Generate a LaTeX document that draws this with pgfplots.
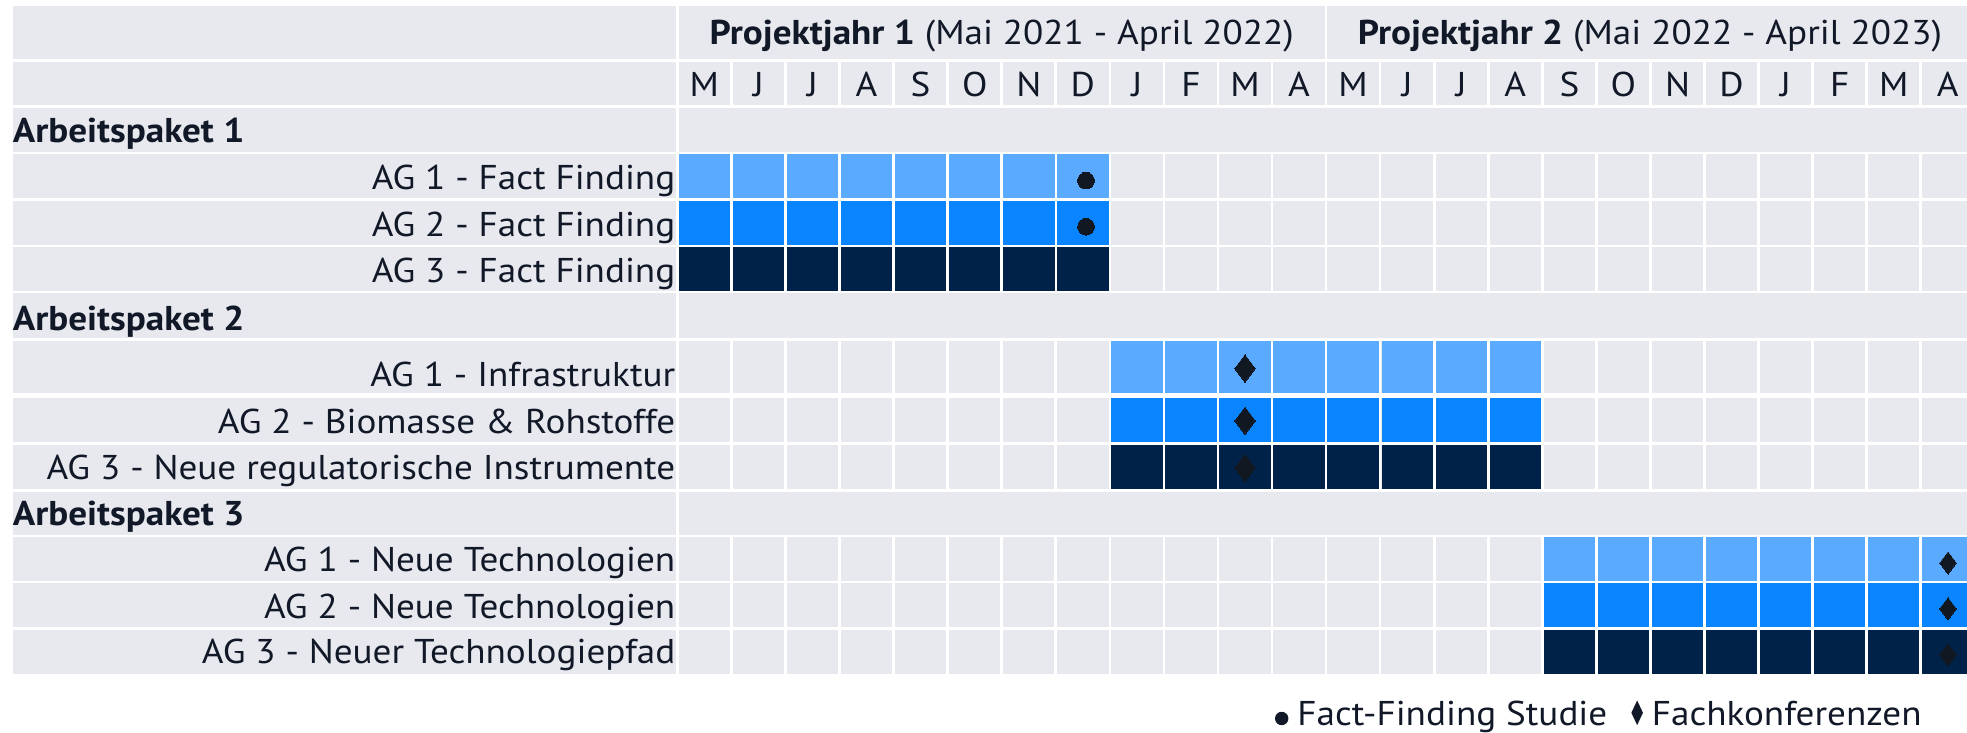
\documentclass[border=0pt]{standalone}
\usepackage{pgfplots}
\pgfplotsset{compat=1.18}
\usepackage{pgfplotstable}
\usepackage{fontspec}
\setmainfont{PT Sans}[FakeStretch=1.08]
\definecolor{bg}{RGB}{232,233,238}
\definecolor{lb}{RGB}{90,171,255}
\definecolor{mb}{RGB}{10,132,255}
\definecolor{nv}{RGB}{0,34,72}
\definecolor{mk}{RGB}{17,24,34}
\definecolor{tx}{RGB}{17,24,39}

% one grid cell: 51.4 x 43.8 px (1 px = 0.5pt)
\pgfdeclareplotmark{cell}{\pgfpathrectangle{\pgfqpoint{-12.85pt}{-10.95pt}}{\pgfqpoint{25.7pt}{21.9pt}}\pgfusepathqfill}
\pgfdeclareplotmark{celltall}{\pgfpathrectangle{\pgfqpoint{-12.85pt}{-13.075pt}}{\pgfqpoint{25.7pt}{26.15pt}}\pgfusepathqfill}

% light blue cells (AG 1)
\pgfplotstableread{
x y
704.4 176
758.5 176
812.5 176
866.6 176
920.6 176
974.7 176
1028.8 176
1082.8 176
1569.4 559
1623.4 559
1677.5 559
1731.5 559
1785.6 559
1839.7 559
1893.7 559
1947.8 559
}\lightcells
\pgfplotstableread{
x y
1136.9 367.15
1190.9 367.15
1245.0 367.15
1299.1 367.15
1353.1 367.15
1407.2 367.15
1461.2 367.15
1515.3 367.15
}\lighttall
% mid blue cells (AG 2)
\pgfplotstableread{
x y
704.4 222.85
758.5 222.85
812.5 222.85
866.6 222.85
920.6 222.85
974.7 222.85
1028.8 222.85
1082.8 222.85
1136.9 419.8
1190.9 419.8
1245.0 419.8
1299.1 419.8
1353.1 419.8
1407.2 419.8
1461.2 419.8
1515.3 419.8
1569.4 605.3
1623.4 605.3
1677.5 605.3
1731.5 605.3
1785.6 605.3
1839.7 605.3
1893.7 605.3
1947.8 605.3
}\midcells
% navy cells (AG 3)
\pgfplotstableread{
x y
704.4 269
758.5 269
812.5 269
866.6 269
920.6 269
974.7 269
1028.8 269
1082.8 269
1136.9 467
1190.9 467
1245.0 467
1299.1 467
1353.1 467
1407.2 467
1461.2 467
1515.3 467
1569.4 651.65
1623.4 651.65
1677.5 651.65
1731.5 651.65
1785.6 651.65
1839.7 651.65
1893.7 651.65
1947.8 651.65
}\navycells
% milestones
\pgfplotstableread{
x y
1086 180.6
1086 226.7
}\studies
\pgfplotstableread{
x y
1245 368.5
1245 420.8
1245 468
}\konfA
\pgfplotstableread{
x y
1948 563
1948 608.8
1948 654.7
}\konfB

\begin{document}
\begin{tikzpicture}[font=\fontsize{17.2pt}{19pt}\selectfont, text=tx]
\begin{axis}[
  scale only axis, width=983.5pt, height=366.5pt,
  xmin=0, xmax=1967, ymin=0, ymax=733, y dir=reverse,
  hide axis, clip=true,
]
% ---- label column cells
\fill[bg] (axis cs:12.5,6) rectangle (axis cs:675.7,59.3);
\fill[bg] (axis cs:12.5,62) rectangle (axis cs:675.7,105.3);
\fill[bg] (axis cs:12.5,108) rectangle (axis cs:675.7,151.7);
\fill[bg] (axis cs:12.5,154.1) rectangle (axis cs:675.7,197.9);
\fill[bg] (axis cs:12.5,200.95) rectangle (axis cs:675.7,244.75);
\fill[bg] (axis cs:12.5,247.1) rectangle (axis cs:675.7,290.9);
\fill[bg] (axis cs:12.5,293.3) rectangle (axis cs:675.7,338.3);
\fill[bg] (axis cs:12.5,341) rectangle (axis cs:675.7,393.3);
\fill[bg] (axis cs:12.5,397.9) rectangle (axis cs:675.7,441.7);
\fill[bg] (axis cs:12.5,445.1) rectangle (axis cs:675.7,488.9);
\fill[bg] (axis cs:12.5,491.7) rectangle (axis cs:675.7,535);
\fill[bg] (axis cs:12.5,537.1) rectangle (axis cs:675.7,580.9);
\fill[bg] (axis cs:12.5,583.4) rectangle (axis cs:675.7,627.2);
\fill[bg] (axis cs:12.5,629.75) rectangle (axis cs:675.7,673.55);
% ---- header cells
\fill[bg] (axis cs:678.7,6) rectangle (axis cs:1324.7,59.3);
\fill[bg] (axis cs:1327.4,6) rectangle (axis cs:1975,59.3);
% ---- Arbeitspaket rows (merged)
\fill[bg] (axis cs:678.7,108) rectangle (axis cs:1975,151.7);
\fill[bg] (axis cs:678.7,293.3) rectangle (axis cs:1975,338.3);
\fill[bg] (axis cs:678.7,491.7) rectangle (axis cs:1975,535);
% ---- month grid cells
\pgfplotsinvokeforeach{0,...,23}{
  \fill[bg] (axis cs:{678.7+#1*54.06},62) rectangle (axis cs:{730.1+#1*54.06},105.3);
  \fill[bg] (axis cs:{678.7+#1*54.06},154.1) rectangle (axis cs:{730.1+#1*54.06},197.9);
  \fill[bg] (axis cs:{678.7+#1*54.06},200.95) rectangle (axis cs:{730.1+#1*54.06},244.75);
  \fill[bg] (axis cs:{678.7+#1*54.06},247.1) rectangle (axis cs:{730.1+#1*54.06},290.9);
  \fill[bg] (axis cs:{678.7+#1*54.06},341) rectangle (axis cs:{730.1+#1*54.06},393.3);
  \fill[bg] (axis cs:{678.7+#1*54.06},397.9) rectangle (axis cs:{730.1+#1*54.06},441.7);
  \fill[bg] (axis cs:{678.7+#1*54.06},445.1) rectangle (axis cs:{730.1+#1*54.06},488.9);
  \fill[bg] (axis cs:{678.7+#1*54.06},537.1) rectangle (axis cs:{730.1+#1*54.06},580.9);
  \fill[bg] (axis cs:{678.7+#1*54.06},583.4) rectangle (axis cs:{730.1+#1*54.06},627.2);
  \fill[bg] (axis cs:{678.7+#1*54.06},629.75) rectangle (axis cs:{730.1+#1*54.06},673.55);
}
% ---- coloured cells
\addplot[only marks, mark=cell, color=lb] table {\lightcells};
\addplot[only marks, mark=celltall, color=lb] table {\lighttall};
\addplot[only marks, mark=cell, color=mb] table {\midcells};
\addplot[only marks, mark=cell, color=nv] table {\navycells};
% ---- milestones
\addplot[only marks, mark=*, mark size=4.17pt, color=mk, mark options={line width=0pt}] table {\studies};
\addplot[only marks, mark=diamond*, mark size=6.8pt, color=mk, mark options={line width=0pt}] table {\konfA};
\addplot[only marks, mark=diamond*, mark size=5.5pt, color=mk, mark options={line width=0pt}] table {\konfB};
% ---- header texts
\node[anchor=base, inner sep=0pt] at (axis cs:1001.7,45) {\textbf{Projektjahr 1} (Mai 2021 - April 2022)};
\node[anchor=base, inner sep=0pt] at (axis cs:1650,45) {\textbf{Projektjahr 2} (Mai 2022 - April 2023)};
% ---- months
\node[anchor=base, inner sep=0pt] at (axis cs:704.4,96.7) {M};
\node[anchor=base, inner sep=0pt] at (axis cs:758.5,96.7) {J};
\node[anchor=base, inner sep=0pt] at (axis cs:812.5,96.7) {J};
\node[anchor=base, inner sep=0pt] at (axis cs:866.6,96.7) {A};
\node[anchor=base, inner sep=0pt] at (axis cs:920.6,96.7) {S};
\node[anchor=base, inner sep=0pt] at (axis cs:974.7,96.7) {O};
\node[anchor=base, inner sep=0pt] at (axis cs:1028.8,96.7) {N};
\node[anchor=base, inner sep=0pt] at (axis cs:1082.8,96.7) {D};
\node[anchor=base, inner sep=0pt] at (axis cs:1136.9,96.7) {J};
\node[anchor=base, inner sep=0pt] at (axis cs:1190.9,96.7) {F};
\node[anchor=base, inner sep=0pt] at (axis cs:1245.0,96.7) {M};
\node[anchor=base, inner sep=0pt] at (axis cs:1299.1,96.7) {A};
\node[anchor=base, inner sep=0pt] at (axis cs:1353.1,96.7) {M};
\node[anchor=base, inner sep=0pt] at (axis cs:1407.2,96.7) {J};
\node[anchor=base, inner sep=0pt] at (axis cs:1461.2,96.7) {J};
\node[anchor=base, inner sep=0pt] at (axis cs:1515.3,96.7) {A};
\node[anchor=base, inner sep=0pt] at (axis cs:1569.4,96.7) {S};
\node[anchor=base, inner sep=0pt] at (axis cs:1623.4,96.7) {O};
\node[anchor=base, inner sep=0pt] at (axis cs:1677.5,96.7) {N};
\node[anchor=base, inner sep=0pt] at (axis cs:1731.5,96.7) {D};
\node[anchor=base, inner sep=0pt] at (axis cs:1785.6,96.7) {J};
\node[anchor=base, inner sep=0pt] at (axis cs:1839.7,96.7) {F};
\node[anchor=base, inner sep=0pt] at (axis cs:1893.7,96.7) {M};
\node[anchor=base, inner sep=0pt] at (axis cs:1947.8,96.7) {A};
% ---- row labels
\node[anchor=base west, inner sep=0pt] at (axis cs:12.5,142.7) {\textbf{Arbeitspaket 1}};
\node[anchor=base east, inner sep=0pt] at (axis cs:675.7,189.3) {AG 1 - Fact Finding};
\node[anchor=base east, inner sep=0pt] at (axis cs:675.7,236.3) {AG 2 - Fact Finding};
\node[anchor=base east, inner sep=0pt] at (axis cs:675.7,282.3) {AG 3 - Fact Finding};
\node[anchor=base west, inner sep=0pt] at (axis cs:12.5,330) {\textbf{Arbeitspaket 2}};
\node[anchor=base east, inner sep=0pt] at (axis cs:675.7,386) {AG 1 - Infrastruktur\hspace{3.5pt}};
\node[anchor=base east, inner sep=0pt] at (axis cs:675.7,433.3) {AG 2 - Biomasse \& Rohstoffe};
\node[anchor=base east, inner sep=0pt] at (axis cs:675.7,479.5) {AG 3 - Neue regulatorische Instrumente};
\node[anchor=base west, inner sep=0pt] at (axis cs:12.5,525.7) {\textbf{Arbeitspaket 3}};
\node[anchor=base east, inner sep=0pt] at (axis cs:675.7,571.5) {AG 1 - Neue Technologien};
\node[anchor=base east, inner sep=0pt] at (axis cs:675.7,618) {AG 2 - Neue Technologien};
\node[anchor=base east, inner sep=0pt] at (axis cs:675.7,663.8) {AG 3 - Neuer Technologiepfad};
% ---- legend
\node[anchor=base east, inner sep=0pt] at (axis cs:1922,725.3) {\tikz[baseline={(0,-3.4pt)}]\fill[tx] (0,0) circle (3.35pt);\hspace{4.5pt}Fact-Finding Studie\hspace{12pt}\tikz[baseline={(0,-6.25pt)}]\fill[tx] (0,-6.15pt) -- (2.9pt,0) -- (0,6.15pt) -- (-2.9pt,0) -- cycle;\hspace{4.5pt}Fachkonferenzen};
\end{axis}
\pgfresetboundingbox
\path (current axis.south west) rectangle (current axis.north east);
\end{tikzpicture}
\end{document}
